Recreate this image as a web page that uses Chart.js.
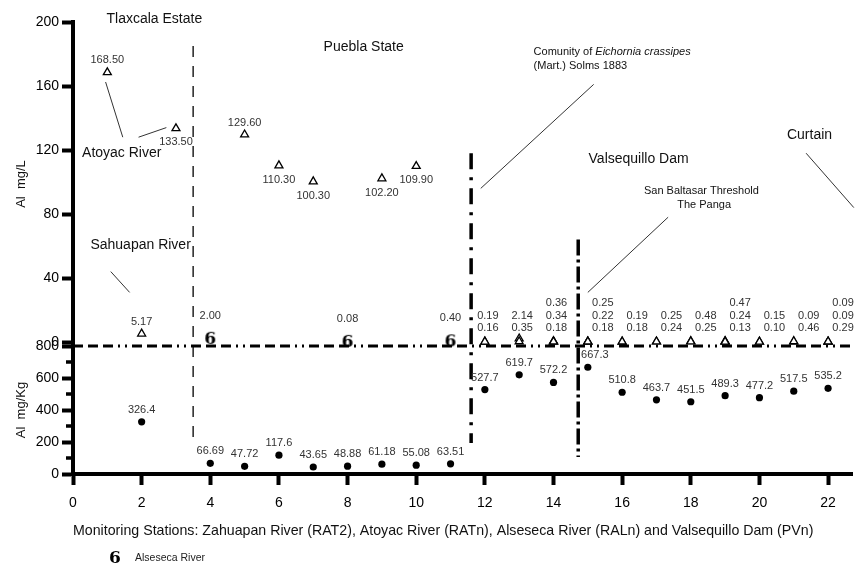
<!DOCTYPE html>
<html>
<head>
<meta charset="utf-8">
<script src="https://cdn.jsdelivr.net/npm/chart.js@4.4.1/dist/chart.umd.min.js"></script>
<style>
  html, body { margin: 0; padding: 0; background: #fff; }
  #chart { display: block; }
</style>
</head>
<body>
<canvas id="chart" width="858" height="565"></canvas>
<script>
const FONT = '"Liberation Sans", Arial, Helvetica, sans-serif';

// axis ticks
const xTicks = [0, 2, 4, 6, 8, 10, 12, 14, 16, 18, 20, 22];
const waterTicks = [0, 40, 80, 120, 160, 200];
const sedimentTicks = [0, 200, 400, 600, 800];
const sedimentMinorTicks = [100, 300, 500, 700];

// Al in water, mg/L (triangles) - Zahuapan / Atoyac rivers
const riverStations = [1, 2, 3, 5, 6, 7, 9, 10];
const riverValues = [168.50, 5.17, 133.50, 129.60, 110.30, 100.30, 102.20, 109.90];
const riverLabelsBelow = [3, 6, 7, 9, 10]; // stations whose value sits under the mark

// Alseseca River stations (drawn with the "6" mark)
const alsesecaStations = [4, 8, 11];
const alsesecaValues = [2.00, 0.08, 0.40];

// Valsequillo Dam, one value per depth
const damStations = [12, 13, 14, 15, 16, 17, 18, 19, 20, 21, 22];
const damValues = [
  [0.19, 0.16], [2.14, 0.35], [0.36, 0.34, 0.18], [0.25, 0.22, 0.18],
  [0.19, 0.18], [0.25, 0.24], [0.48, 0.25], [0.47, 0.24, 0.13],
  [0.15, 0.10], [0.09, 0.46], [0.09, 0.09, 0.29]
];

// Al in sediment, mg/Kg (dots)
const sedimentStations = [2, 4, 5, 6, 7, 8, 9, 10, 11, 12, 13, 14, 15, 16, 17, 18, 19, 20, 21, 22];
const sedimentValues = [326.4, 66.69, 47.72, 117.6, 43.65, 48.88, 61.18, 55.08, 63.51,
  527.7, 619.7, 572.2, 667.3, 510.8, 463.7, 451.5, 489.3, 477.2, 517.5, 535.2];

const xTitle = 'Monitoring Stations: Zahuapan River (RAT2), Atoyac River (RATn), Alseseca River (RALn) and Valsequillo Dam (PVn)';

// vertical dividers: x position, top value (mg/L panel), bottom value (mg/Kg panel)
const dividers = [
  { x: 3.5, top: 185, bottom: 231, width: 1.3, dash: [11, 9] },
  { x: 11.6, top: 118, bottom: 194, width: 3.5, dash: [16, 8, 3, 8] },
  { x: 14.72, top: 64, bottom: 106, width: 3.5, dash: [16, 4, 3, 4] }
];

// region notes, placed in the mg/L panel coordinates
const notes = [
  { text: 'Tlaxcala Estate', x: 2.37, y: 202, size: 14 },
  { text: 'Puebla State', x: 8.47, y: 184.4, size: 14 },
  { text: 'Curtain', x: 21.46, y: 129.4, size: 14 },
  { text: 'Valsequillo Dam', x: 16.48, y: 114.4, size: 14 },
  { text: 'San Baltasar Threshold', x: 18.31, y: 94.4, size: 11 },
  { text: 'The Panga', x: 18.39, y: 85.6, size: 11 },
  { text: 'Atoyac River', x: 1.42, y: 118.1, size: 14 },
  { text: 'Sahuapan River', x: 1.97, y: 60.6, size: 14 }
];
const leaders = [
  [0.95, 162.5, 1.45, 128], [1.91, 128, 2.72, 134], [1.1, 44, 1.65, 31],
  [11.88, 96, 15.17, 161], [15.0, 31, 17.34, 78], [21.36, 118, 22.75, 84]
];

function sixMark() {
  const c = document.createElement('canvas');
  c.width = 16; c.height = 20;
  const g = c.getContext('2d');
  g.font = 'bold 17px "DejaVu Serif", "Liberation Serif", serif';
  g.textAlign = 'center';
  g.textBaseline = 'middle';
  g.fillStyle = '#000';
  g.fillText('6', 8, 11);
  return c;
}
const six = sixMark();

const damPoints = [];
damStations.forEach((s, i) => damValues[i].forEach(v => damPoints.push({ x: s, y: v })));

const overlay = {
  id: 'overlay',
  beforeDatasetsDraw(chart) {
    const { ctx, chartArea, scales: { x, y, y2 } } = chart;
    ctx.save();
    ctx.strokeStyle = '#000';
    // border between the two panels
    const yb = y2.getPixelForValue(800);
    ctx.lineWidth = 3;
    ctx.setLineDash([10, 5, 10, 5, 10, 5, 2, 5, 2, 5]);
    ctx.beginPath();
    ctx.moveTo(chartArea.left, yb);
    ctx.lineTo(chartArea.right, yb);
    ctx.stroke();
    dividers.forEach(d => {
      const px = x.getPixelForValue(d.x);
      ctx.lineWidth = d.width;
      ctx.setLineDash(d.dash);
      ctx.beginPath();
      ctx.moveTo(px, y.getPixelForValue(d.top));
      ctx.lineTo(px, y2.getPixelForValue(d.bottom));
      ctx.stroke();
    });
    ctx.setLineDash([]);
    // minor ticks on the mg/Kg axis
    ctx.lineWidth = 3.5;
    sedimentMinorTicks.forEach(v => {
      const py = y2.getPixelForValue(v);
      ctx.beginPath();
      ctx.moveTo(chartArea.left - 7, py);
      ctx.lineTo(chartArea.left, py);
      ctx.stroke();
    });
    ctx.restore();
  },
  afterDatasetsDraw(chart) {
    const { ctx, scales: { x, y, y2 } } = chart;
    ctx.save();
    ctx.textAlign = 'center';
    ctx.textBaseline = 'middle';

    // leader lines
    ctx.strokeStyle = '#333';
    ctx.lineWidth = 1;
    leaders.forEach(l => {
      ctx.beginPath();
      ctx.moveTo(x.getPixelForValue(l[0]), y.getPixelForValue(l[1]));
      ctx.lineTo(x.getPixelForValue(l[2]), y.getPixelForValue(l[3]));
      ctx.stroke();
    });

    // notes
    ctx.fillStyle = '#111';
    notes.forEach(n => {
      ctx.font = n.size + 'px ' + FONT;
      ctx.fillText(n.text, x.getPixelForValue(n.x), y.getPixelForValue(n.y));
    });
    // community note, mixed roman / italic
    ctx.textAlign = 'left';
    let cx = x.getPixelForValue(13.42);
    ctx.font = '11px ' + FONT;
    ctx.fillText('Comunity of ', cx, y.getPixelForValue(181.25));
    const w = ctx.measureText('Comunity of ').width;
    ctx.font = 'italic 11px ' + FONT;
    ctx.fillText('Eichornia crassipes', cx + w, y.getPixelForValue(181.25));
    ctx.font = '11px ' + FONT;
    ctx.fillText('(Mart.) Solms 1883', cx, y.getPixelForValue(172.5));

    // value labels
    ctx.textAlign = 'center';
    ctx.fillStyle = '#333';
    ctx.font = '11px ' + FONT;
    riverStations.forEach((s, i) => {
      const px = x.getPixelForValue(s);
      const py = y.getPixelForValue(riverValues[i]);
      const dy = riverLabelsBelow.includes(s) ? 14 : -12;
      ctx.fillText(riverValues[i].toFixed(2), px, py + dy);
    });
    alsesecaStations.forEach((s, i) => {
      ctx.fillText(alsesecaValues[i].toFixed(2), x.getPixelForValue(s),
        y.getPixelForValue(alsesecaValues[i]) - 23);
    });
    damStations.forEach((s, i) => {
      const px = x.getPixelForValue(s) + (s > 14.72 ? 15 : 3);
      const base = y.getPixelForValue(0) - 14;
      const vals = damValues[i];
      vals.forEach((v, j) => {
        ctx.fillText(v.toFixed(2), px, base - (vals.length - 1 - j) * 12.5);
      });
    });
    sedimentStations.forEach((s, i) => {
      const px = x.getPixelForValue(s) + (s === 15 ? 7 : 0);
      ctx.fillText(String(sedimentValues[i]), px, y2.getPixelForValue(sedimentValues[i]) - 12);
    });

    // legend for the "6" mark
    const lx = 115, ly = chart.height - 7;
    ctx.drawImage(six, lx - six.width / 2, ly - six.height / 2);
    ctx.textAlign = 'left';
    ctx.fillStyle = '#222';
    ctx.font = '10.5px ' + FONT;
    ctx.fillText('Alseseca River', lx + 20, ly);
    ctx.restore();
  }
};

const axisGrid = { drawOnChartArea: false, tickLength: 11, tickWidth: 4, tickColor: '#000' };
const axisBorder = { width: 4, color: '#000' };
const tickFont = { family: FONT, size: 14 };

new Chart(document.getElementById('chart'), {
  type: 'scatter',
  data: {
    datasets: [
      {
        label: 'Al mg/L',
        yAxisID: 'y',
        data: riverStations.map((s, i) => ({ x: s, y: riverValues[i] })),
        pointStyle: 'triangle', pointRadius: 4.6,
        borderColor: '#000', backgroundColor: '#fff', borderWidth: 1.3, clip: false
      },
      {
        label: 'Valsequillo Dam',
        yAxisID: 'y',
        data: damPoints,
        pointStyle: 'triangle', pointRadius: 4.6,
        borderColor: '#000', backgroundColor: '#fff', borderWidth: 1.3, clip: false
      },
      {
        label: 'Alseseca River',
        yAxisID: 'y',
        data: alsesecaStations.map((s, i) => ({ x: s, y: alsesecaValues[i] })),
        pointStyle: six, clip: false
      },
      {
        label: 'Al mg/Kg',
        yAxisID: 'y2',
        data: sedimentStations.map((s, i) => ({ x: s, y: sedimentValues[i] })),
        pointStyle: 'circle', pointRadius: 3.6,
        borderColor: '#000', backgroundColor: '#000', borderWidth: 0, clip: false
      }
    ]
  },
  options: {
    responsive: false,
    animation: false,
    devicePixelRatio: 1,
    layout: { padding: { top: 22, right: 0, bottom: 21, left: 0 } },
    plugins: { legend: { display: false }, tooltip: { enabled: false } },
    scales: {
      x: {
        type: 'linear', min: 0, max: 22.7,
        afterBuildTicks: s => { s.ticks = xTicks.map(v => ({ value: v })); },
        afterFit: s => { s.height = 70; },
        ticks: { color: '#000', font: tickFont, padding: 10, autoSkip: false, maxRotation: 0 },
        grid: axisGrid,
        border: axisBorder,
        title: { display: true, align: 'start', text: xTitle, color: '#111', font: { family: FONT, size: 14.2 }, padding: { bottom: 4 } }
      },
      y: {
        type: 'linear', position: 'left', stack: 'al', stackWeight: 324, weight: 1,
        min: -2.5, max: 200,
        afterBuildTicks: s => { s.ticks = waterTicks.map(v => ({ value: v })); },
        afterFit: s => { s.width = 73; },
        ticks: { color: '#000', font: tickFont, padding: 3, autoSkip: false },
        grid: axisGrid,
        border: axisBorder,
        title: { display: true, text: 'Al  mg/L', color: '#111', font: { family: FONT, size: 13 }, padding: { top: 14 } }
      },
      y2: {
        type: 'linear', position: 'left', stack: 'al', stackWeight: 128, weight: 0,
        min: 0, max: 800,
        afterBuildTicks: s => { s.ticks = sedimentTicks.map(v => ({ value: v })); },
        afterFit: s => { s.width = 73; },
        ticks: { color: '#000', font: tickFont, padding: 3, autoSkip: false },
        grid: axisGrid,
        border: axisBorder,
        title: { display: true, text: 'Al  mg/Kg', color: '#111', font: { family: FONT, size: 13 }, padding: { top: 14 } }
      }
    }
  },
  plugins: [overlay]
});
</script>
</body>
</html>
